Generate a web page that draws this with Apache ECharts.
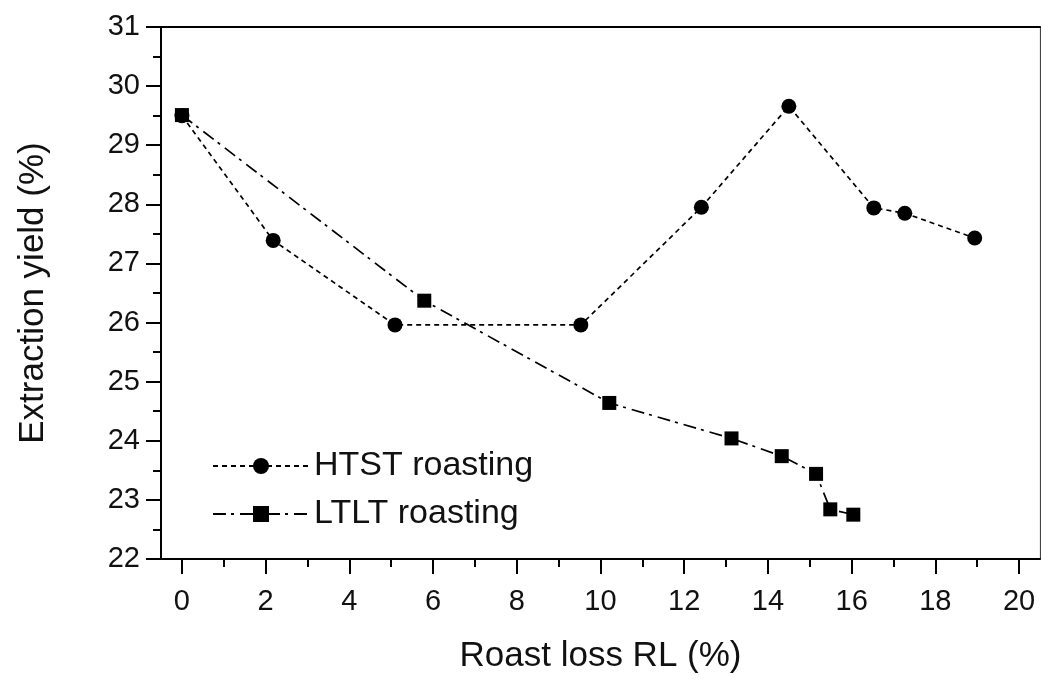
<!DOCTYPE html>
<html>
<head>
<meta charset="utf-8">
<style>
html,body{margin:0;padding:0;background:#fff;}
#chart{width:1041px;height:679px;}
</style>
<script src="https://cdn.jsdelivr.net/npm/echarts@6/dist/echarts.min.js"></script>
</head>
<body>
<div id="chart"></div>
<script>
// Data
var htstX = [0, 2.18, 5.09, 9.53, 12.41, 14.5, 16.53, 17.27, 18.94];
var htstY = [29.5, 27.39, 25.96, 25.96, 27.95, 29.66, 27.94, 27.85, 27.43];
var ltltX = [0, 5.79, 10.21, 13.13, 14.33, 15.15, 15.49, 16.04];
var ltltY = [29.51, 26.37, 24.64, 24.04, 23.74, 23.44, 22.84, 22.75];
var xMajorTicks = [0, 2, 4, 6, 8, 10, 12, 14, 16, 18, 20];
var xMinorTicks = [1, 3, 5, 7, 9, 11, 13, 15, 17, 19];
var seriesNames = ['HTST roasting', 'LTLT roasting'];
var xTitle = 'Roast loss RL (%)';
var yTitle = 'Extraction yield (%)';

function pairs(xs, ys) { return xs.map(function (x, i) { return [x, ys[i]]; }); }

var FONT = 'Liberation Sans, Arial, Helvetica, sans-serif';
var chart = echarts.init(document.getElementById('chart'), null, {renderer: 'canvas'});
chart.setOption({
  animation: false,
  backgroundColor: '#fff',
  grid: {left: 161, right: 1, top: 27, bottom: 119, show: false},
  legend: {
    orient: 'vertical', left: 207, top: 443,
    itemWidth: 96, itemHeight: 20, itemGap: 12,
    textStyle: {fontFamily: FONT, fontSize: 34, color: '#111', lineHeight: 36},
    data: seriesNames
  },
  xAxis: [
    {
      type: 'value', min: -0.5, max: 20.5, position: 'bottom',
      name: xTitle, nameLocation: 'middle', nameGap: 80,
      nameTextStyle: {fontFamily: FONT, fontSize: 35, color: '#111'},
      axisLine: {show: true, onZero: false, lineStyle: {color: '#000', width: 2}},
      axisTick: {show: true, inside: false, length: 15, lineStyle: {color: '#000', width: 2}, customValues: xMajorTicks},
      axisLabel: {show: true, margin: 28, fontFamily: FONT, fontSize: 29, color: '#111', customValues: xMajorTicks},
      splitLine: {show: false}
    },
    {
      type: 'value', min: -0.5, max: 20.5, position: 'bottom', gridIndex: 0,
      axisLine: {show: false, onZero: false},
      axisTick: {show: true, inside: false, length: 8, lineStyle: {color: '#000', width: 2}, customValues: xMinorTicks},
      axisLabel: {show: false},
      splitLine: {show: false}
    },
    {
      type: 'value', min: -0.5, max: 20.5, position: 'top',
      axisLine: {show: true, onZero: false, lineStyle: {color: '#000', width: 2}},
      axisTick: {show: false}, axisLabel: {show: false}, splitLine: {show: false}
    }
  ],
  yAxis: [
    {
      type: 'value', min: 22, max: 31, interval: 1, position: 'left',
      name: yTitle, nameLocation: 'middle', nameGap: 110, nameRotate: 90,
      nameTextStyle: {fontFamily: FONT, fontSize: 35, color: '#111'},
      axisLine: {show: true, onZero: false, lineStyle: {color: '#000', width: 2}},
      axisTick: {show: true, inside: false, length: 15, lineStyle: {color: '#000', width: 2}},
      minorTick: {show: true, splitNumber: 2, length: 8, lineStyle: {color: '#000', width: 2}},
      axisLabel: {show: true, margin: 21, fontFamily: FONT, fontSize: 29, color: '#111'},
      splitLine: {show: false}, minorSplitLine: {show: false}
    },
    {
      type: 'value', min: 22, max: 31, position: 'right',
      axisLine: {show: true, onZero: false, lineStyle: {color: '#444', width: 1.2}},
      axisTick: {show: false}, axisLabel: {show: false}, splitLine: {show: false}
    }
  ],
  series: [
    {
      name: seriesNames[0], type: 'line', xAxisIndex: 0, yAxisIndex: 0,
      data: pairs(htstX, htstY),
      symbol: 'circle', symbolSize: 15,
      itemStyle: {color: '#000'},
      lineStyle: {color: '#000', width: 1.7, type: [5, 4]},
      z: 2
    },
    {
      name: seriesNames[1], type: 'line', xAxisIndex: 0, yAxisIndex: 0,
      data: pairs(ltltX, ltltY),
      symbol: 'rect', symbolSize: 14,
      itemStyle: {color: '#000'},
      lineStyle: {color: '#000', width: 1.7, type: [13, 5, 3, 6]},
      z: 3
    }
  ]
});
</script>
</body>
</html>
